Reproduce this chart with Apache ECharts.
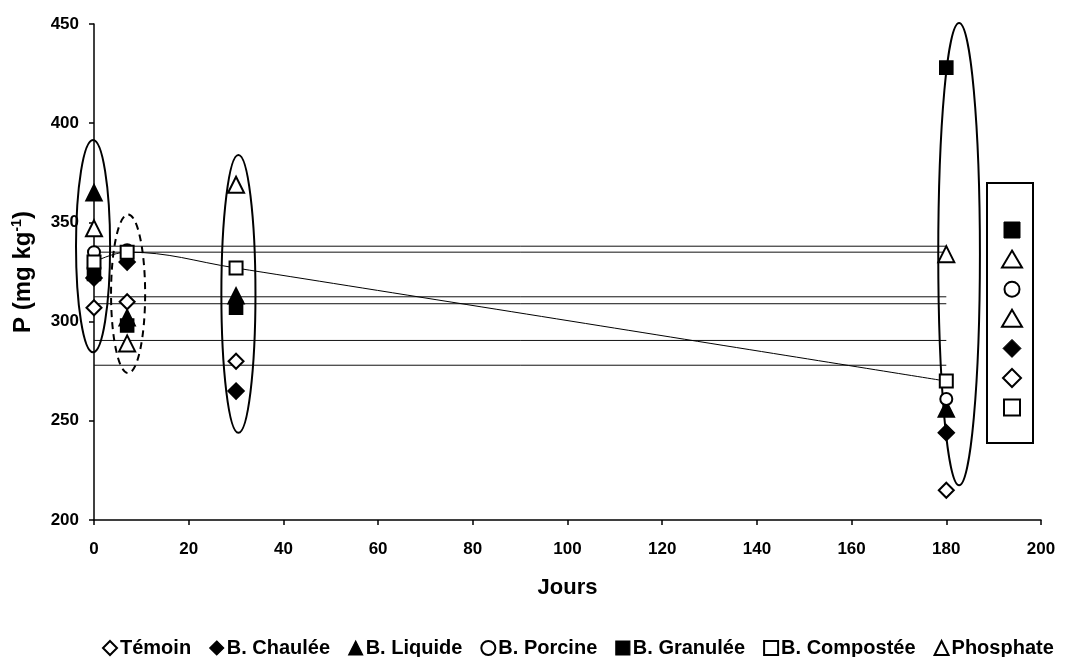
<!DOCTYPE html>
<html>
<head>
<meta charset="utf-8">
<script src="https://cdn.jsdelivr.net/npm/echarts@6/dist/echarts.min.js"></script>
<style>html,body{margin:0;padding:0;background:#fff}#c{width:1073px;height:657px}</style>
</head>
<body>
<div id="c"></div>
<script>
// ---- data ----
const days = [0, 7, 30, 180];
const seriesNames = ['Témoin', 'B. Chaulée', 'B. Liquide', 'B. Porcine', 'B. Granulée', 'B. Compostée', 'Phosphate'];
const temoin    = [307, 310, 280, 215];
const chaulee   = [322, 330, 265, 244];
const liquide   = [365, 302, 313, 256];
const porcine   = [335, 336, 327, 261];
const granulee  = [324, 298, 307, 428];
const compostee = [330, 335, 327, 270];
const phosphate = [347, 289, 369, 334];
const refLineValues = [338, 335, 312.5, 309, 290.5, 278];
const refLineDays = [0, 180];
// annotation ellipses: [centerDay, centerValue, halfWidthDays, halfHeightValue, dashed]
const ellipses = [
  [-0.2, 338, 3.6, 53.5, 0],
  [7.2, 314, 3.6, 40, 1],
  [30.5, 314, 3.6, 70, 0],
  [182.7, 334, 4.4, 116.5, 0]
];
const xTicks = {min: 0, max: 200, interval: 20};
const yTicks = {min: 200, max: 450, interval: 50};

const symbols = ['emptyDiamond', 'diamond', 'triangle', 'emptyCircle', 'rect', 'emptyRect', 'emptyTriangle'];
const sizes = [15, 16, 16, 12, 13, 13, 16];
const values = [temoin, chaulee, liquide, porcine, granulee, compostee, phosphate];
const boxSymbols = ['rect', 'triangle', 'circle', 'triangle', 'diamond', 'emptyDiamond', 'emptyRect'];

const FONT = "'Liberation Sans', Arial, sans-serif";
const chart = echarts.init(document.getElementById('c'));

const series = [];
refLineValues.forEach((v, i) => {
  series.push({
    name: 'ref' + i, type: 'line', silent: true, symbol: 'none', z: 1,
    data: refLineDays.map(d => [d, v]),
    lineStyle: {color: '#111', width: 1}
  });
});
series.push({
  name: 'ellipses', type: 'custom', silent: true, z: 2,
  data: ellipses,
  encode: {x: 0, y: 1},
  clip: false,
  renderItem: function (params, api) {
    const c = api.coord([api.value(0), api.value(1)]);
    const s = api.size([api.value(2), api.value(3)]);
    return {
      type: 'ellipse',
      shape: {cx: c[0], cy: c[1], rx: s[0], ry: s[1]},
      style: {fill: null, stroke: '#000', lineWidth: 2, lineDash: api.value(4) ? [7, 5] : null}
    };
  }
});
seriesNames.forEach((n, i) => {
  const isLine = n === 'B. Compostée';
  series.push({
    name: n,
    type: isLine ? 'line' : 'scatter',
    smooth: isLine ? 0.4 : undefined,
    symbol: symbols[i],
    symbolSize: sizes[i],
    showSymbol: true,
    z: 5 + i,
    data: days.map((d, k) => [d, values[i][k]]),
    itemStyle: {color: '#000', borderColor: '#000', borderWidth: 1.6, opacity: 1},
    lineStyle: isLine ? {color: '#000', width: 1} : undefined
  });
});

// legend box with symbols (right side)
const box = {x: 987, y: 183, w: 46, h: 260};
const graphics = [{type: 'rect', shape: {x: box.x, y: box.y, width: box.w, height: box.h}, style: {fill: '#fff', stroke: '#000', lineWidth: 2}, z: 20}];
boxSymbols.forEach((s, i) => {
  const cx = box.x + box.w / 2 + 2, cy = box.y + 47 + i * 29.6;
  const r = 8;
  const filled = !s.startsWith('empty') && s !== 'triangle' && s !== 'circle';
  const style = filled ? {fill: '#000', stroke: '#000', lineWidth: 1} : {fill: '#fff', stroke: '#000', lineWidth: 2};
  const base = s.replace('empty', '').toLowerCase();
  let el;
  if (base === 'rect') el = {type: 'rect', shape: {x: cx - r, y: cy - r, width: 2 * r, height: 2 * r}};
  else if (base === 'circle') el = {type: 'circle', shape: {cx: cx, cy: cy, r: 7.5}};
  else if (base === 'triangle') el = {type: 'polygon', shape: {points: [[cx, cy - 9], [cx + 10, cy + 8], [cx - 10, cy + 8]]}};
  else el = {type: 'polygon', shape: {points: [[cx, cy - 9], [cx + 9, cy], [cx, cy + 9], [cx - 9, cy]]}};
  el.style = style; el.z = 21;
  graphics.push(el);
});

chart.setOption({
  animation: false,
  backgroundColor: '#fff',
  textStyle: {fontFamily: FONT},
  grid: {left: 94, right: 32, top: 24, bottom: 137},
  xAxis: {
    type: 'value', min: xTicks.min, max: xTicks.max, interval: xTicks.interval,
    name: 'Jours', nameLocation: 'middle', nameGap: 57,
    nameTextStyle: {fontFamily: FONT, fontWeight: 'bold', fontSize: 22, color: '#000'},
    axisLine: {lineStyle: {color: '#000', width: 1.5}},
    axisTick: {show: true, length: 5, lineStyle: {color: '#000', width: 1.5}},
    axisLabel: {fontFamily: FONT, fontWeight: 'bold', fontSize: 17, color: '#000', margin: 21},
    splitLine: {show: false}
  },
  yAxis: {
    type: 'value', min: yTicks.min, max: yTicks.max, interval: yTicks.interval,
    name: '{a|P (mg kg}{s|-1}{a|)}', nameLocation: 'middle', nameGap: 58,
    nameTextStyle: {
      fontFamily: FONT, fontWeight: 'bold', fontSize: 24, color: '#000',
      rich: {
        a: {fontFamily: FONT, fontWeight: 'bold', fontSize: 24, color: '#000'},
        s: {fontFamily: FONT, fontWeight: 'bold', fontSize: 14, color: '#000', padding: [0, 0, 12, 0]}
      }
    },
    axisLine: {show: true, lineStyle: {color: '#000', width: 1.5}},
    axisTick: {show: true, length: 5, lineStyle: {color: '#000', width: 1.5}},
    axisLabel: {fontFamily: FONT, fontWeight: 'bold', fontSize: 17, color: '#000', margin: 15},
    splitLine: {show: false}
  },
  legend: {
    top: 633, left: 97,
    itemWidth: 14, itemHeight: 14, itemGap: 18,
    textStyle: {fontFamily: FONT, fontWeight: 'bold', fontSize: 20, color: '#000', padding: [0, 0, 0, -2]},
    data: seriesNames.map((n, i) => ({name: n, icon: symbols[i], itemStyle: {color: '#000', borderColor: '#000', borderWidth: 1.2}}))
  },
  graphic: graphics,
  series: series
});
</script>
</body>
</html>
